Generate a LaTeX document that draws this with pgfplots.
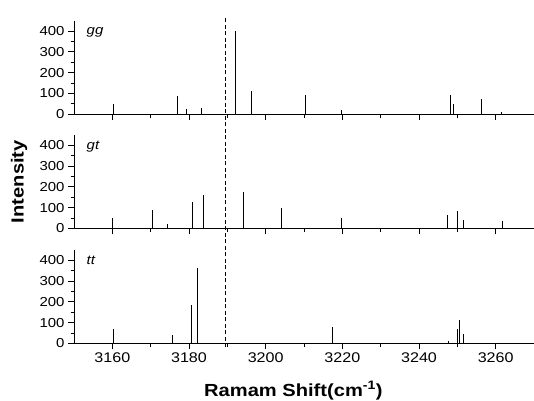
\documentclass[border=0pt]{standalone}
\usepackage{fontspec}
\setmainfont{Liberation Sans}[FakeStretch=1.15]
\usepackage{pgfplots}
\pgfplotsset{compat=1.18}

\pgfplotsset{
  ramanpanel/.style={
    width=460pt, height=93.3pt, scale only axis,
    xmin=3150, xmax=3270, ymin=0, ymax=450,
    axis x line*=bottom, axis y line*=left,
    axis line style={-, line width=0.8pt},
    tick pos=left,
    xtick={3160,3180,...,3260}, ytick={0,100,...,400},
    minor x tick num=1, minor y tick num=1,
    tick align=outside, major tick length=6pt, minor tick length=3.5pt,
    every tick/.style={black, line width=0.8pt},
    xticklabel style={font=\fontsize{14}{16}\selectfont},
    yticklabel style={font=\fontsize{13}{15}\selectfont},
    /pgf/number format/assume math mode=true,
    /pgf/number format/1000 sep={},
    label style={font=\fontsize{17.5}{20}\selectfont\bfseries},
    clip=false,
  },
  stick/.style={ycomb, black, line width=0.9pt, mark=none},
}
\tikzset{panellabel/.style={anchor=base west, font=\fontsize{13}{15}\selectfont\itshape}}

\begin{document}
\begin{tikzpicture}
% gg
\begin{axis}[ramanpanel, at={(0,0)}, anchor=south west, xticklabels={}]
\addplot[stick] coordinates {
  (3160.2,50) (3177.1,87) (3179.3,25) (3183.3,28) (3192.1,400) (3196.2,112)
  (3210.5,93) (3219.7,20) (3248.2,93) (3249.0,47) (3256.2,72) (3261.5,10)
};
\node[panellabel] at (rel axis cs:0.02,0.847) {gg};
\coordinate (dtop) at (axis cs:3189.5,472);
\coordinate (tr) at (rel axis cs:1,1);
\end{axis}
% gt
\begin{axis}[ramanpanel, at={(0,-114.3pt)}, anchor=south west, xticklabels={},
  ylabel={Intensity},
  ylabel style={at={(axis description cs:-0.1196,0.5)}, anchor=center, inner sep=0pt}]
\addplot[stick] coordinates {
  (3160.0,52) (3170.5,89) (3174.4,19) (3181.0,126) (3183.7,161) (3194.2,177)
  (3204.2,100) (3219.7,52) (3247.4,63) (3250.1,84) (3251.7,39) (3261.7,37)
};
\node[panellabel] at (rel axis cs:0.02,0.847) {gt};
\end{axis}
% tt
\begin{axis}[ramanpanel, at={(0,-229.3pt)}, anchor=south west,
  xlabel={Ramam Shift(cm\textsuperscript{-1})},
  xlabel style={at={(axis description cs:0.477,0)}, anchor=base, yshift=-52.7pt}]
\addplot[stick] coordinates {
  (3160.4,69) (3175.6,42) (3180.7,187) (3182.3,365) (3217.3,79)
  (3247.8,10) (3250.1,68) (3250.6,111) (3251.7,43)
};
\node[panellabel] at (rel axis cs:0.02,0.847) {tt};
\coordinate (dbot) at (axis cs:3189.5,-20);
\coordinate (bl) at (rel axis cs:0,0);
\end{axis}
\draw[black, line width=1.1pt, dash pattern=on 4pt off 2.5pt] (dbot) -- (dtop);
\pgfresetboundingbox
\path[use as bounding box] ([shift={(-74pt,-56.7pt)}]bl) rectangle ([shift={(0pt,20.7pt)}]tr);
\end{tikzpicture}
\end{document}
